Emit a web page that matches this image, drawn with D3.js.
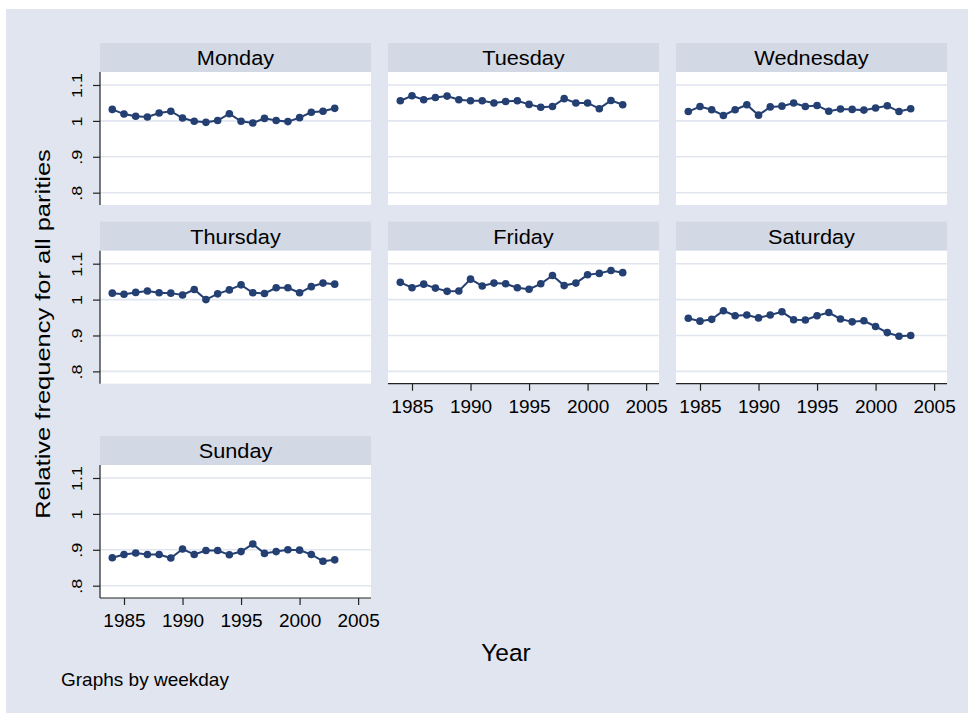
<!DOCTYPE html>
<html>
<head>
<meta charset="utf-8">
<script src="https://cdn.jsdelivr.net/npm/d3@7"></script>
<style>
  html, body { margin: 0; padding: 0; background: #ffffff; }
  svg { display: block; font-family: "Liberation Sans", Arial, sans-serif; }
</style>
</head>
<body>
<svg id="chart" width="968" height="713"></svg>
<script>
// Birth-day-of-week relative frequencies, all parities, by year
const years = [1984, 1985, 1986, 1987, 1988, 1989, 1990, 1991, 1992, 1993,
               1994, 1995, 1996, 1997, 1998, 1999, 2000, 2001, 2002, 2003];

const weekdays = ["Monday", "Tuesday", "Wednesday", "Thursday", "Friday", "Saturday", "Sunday"];

const monday    = [1.032, 1.019, 1.013, 1.011, 1.022, 1.027, 1.008, 0.999, 0.996, 1.001,
                   1.020, 0.999, 0.994, 1.007, 1.001, 0.998, 1.009, 1.024, 1.027, 1.035];
const tuesday   = [1.056, 1.070, 1.059, 1.065, 1.069, 1.059, 1.056, 1.056, 1.050, 1.054,
                   1.056, 1.046, 1.038, 1.040, 1.062, 1.050, 1.050, 1.034, 1.057, 1.045];
const wednesday = [1.026, 1.040, 1.031, 1.015, 1.031, 1.045, 1.016, 1.039, 1.041, 1.050,
                   1.040, 1.043, 1.027, 1.033, 1.032, 1.030, 1.036, 1.042, 1.026, 1.034];
const thursday  = [1.018, 1.015, 1.020, 1.024, 1.019, 1.018, 1.013, 1.028, 1.000, 1.016,
                   1.027, 1.041, 1.019, 1.017, 1.033, 1.033, 1.019, 1.036, 1.046, 1.043];
const friday    = [1.048, 1.033, 1.043, 1.032, 1.023, 1.024, 1.057, 1.038, 1.046, 1.044,
                   1.033, 1.029, 1.044, 1.067, 1.039, 1.046, 1.069, 1.073, 1.081, 1.075];
const saturday  = [0.948, 0.940, 0.945, 0.969, 0.955, 0.957, 0.949, 0.957, 0.966, 0.944,
                   0.943, 0.955, 0.964, 0.946, 0.938, 0.941, 0.925, 0.908, 0.898, 0.900];
const sunday    = [0.878, 0.887, 0.891, 0.887, 0.887, 0.877, 0.902, 0.887, 0.898, 0.898,
                   0.886, 0.895, 0.916, 0.890, 0.895, 0.900, 0.899, 0.887, 0.868, 0.872];

const seriesByDay = [monday, tuesday, wednesday, thursday, friday, saturday, sunday];

const yTicks = [0.8, 0.9, 1.0, 1.1];
const yTickLabels = [".8", ".9", "1", "1.1"];
const xTicks = [1985, 1990, 1995, 2000, 2005];

const yTitle = "Relative frequency for all parities";
const xTitle = "Year";
const note = "Graphs by weekday";

// ---- styling / layout ----
const bg = "#e0e5ef";
const stripFill = "#d2d8e4";
const gridColor = "#e0e5ef";
const ink = "#243f72";

const colX = [100, 388, 676];
const rowY = [43, 221.7, 436];
const panelW = 271;
const stripH = 29;
const plotH = 133;

const svg = d3.select("#chart");

svg.append("rect")
  .attr("x", 6).attr("y", 9)
  .attr("width", 962).attr("height", 704)
  .attr("fill", bg);

const x = d3.scaleLinear().domain([1982.95, 2006.1]).range([0, panelW]);
const y = d3.scaleLinear().domain([0.7657, 1.1362]).range([plotH, 0]);

const line = d3.line()
  .x((d, i) => x(years[i]))
  .y(d => y(d));

weekdays.forEach((day, k) => {
  const col = k % 3, row = Math.floor(k / 3);
  const g = svg.append("g")
    .attr("transform", `translate(${colX[col]},${rowY[row]})`);

  // title strip
  g.append("rect")
    .attr("x", 0).attr("y", 0)
    .attr("width", panelW).attr("height", stripH)
    .attr("fill", stripFill);
  g.append("text")
    .attr("x", panelW / 2).attr("y", 22.5)
    .attr("text-anchor", "middle")
    .attr("font-size", 20.5)
    .attr("transform", `translate(${panelW / 2},0) scale(1.06,1) translate(${-panelW / 2},0)`)
    .attr("fill", "#000")
    .text(day);

  const p = g.append("g").attr("transform", `translate(0,${stripH})`);

  p.append("rect")
    .attr("width", panelW).attr("height", plotH)
    .attr("fill", "#fff");

  // horizontal grid
  p.selectAll("line.grid")
    .data(yTicks)
    .join("line")
    .attr("class", "grid")
    .attr("x1", 0).attr("x2", panelW)
    .attr("y1", d => y(d)).attr("y2", d => y(d))
    .attr("stroke", gridColor)
    .attr("stroke-width", 1.6);

  // left axis on the first column
  if (col === 0) {
    const ax = p.append("g")
      .call(d3.axisLeft(y)
        .tickValues(yTicks)
        .tickFormat((d, i) => yTickLabels[i])
        .tickSize(7)
        .tickPadding(0));
    ax.select(".domain")
      .attr("d", `M0,0V${plotH}`)
      .attr("stroke", "#222").attr("stroke-width", 1.2);
    ax.selectAll(".tick line").attr("stroke", "#222").attr("stroke-width", 1.2);
    ax.selectAll(".tick text")
      .attr("x", null).attr("dy", null)
      .attr("transform", "translate(-18.5,0) rotate(-90) scale(1,0.8)")
      .attr("text-anchor", "middle")
      .attr("font-size", 18)
      .attr("font-family", "Liberation Sans, Arial, sans-serif")
      .attr("fill", "#000");
  }

  // bottom axis on panels with nothing below them
  if (k >= 4) {
    const ax = p.append("g")
      .attr("transform", `translate(0,${plotH})`)
      .call(d3.axisBottom(x)
        .tickValues(xTicks)
        .tickFormat(d3.format("d"))
        .tickSize(7)
        .tickPadding(9));
    ax.select(".domain")
      .attr("d", `M0,0H${panelW}`)
      .attr("stroke", "#222").attr("stroke-width", 1.2);
    ax.selectAll(".tick line").attr("stroke", "#222").attr("stroke-width", 1.2);
    ax.selectAll(".tick text")
      .attr("font-size", 19)
      .attr("font-family", "Liberation Sans, Arial, sans-serif")
      .attr("fill", "#000");
  }

  const vals = seriesByDay[k];
  p.append("path")
    .datum(vals)
    .attr("d", line)
    .attr("fill", "none")
    .attr("stroke", ink)
    .attr("stroke-width", 2);

  p.selectAll("circle")
    .data(vals)
    .join("circle")
    .attr("cx", (d, i) => x(years[i]))
    .attr("cy", d => y(d))
    .attr("r", 3.8)
    .attr("fill", ink);
});

// axis titles and note
svg.append("text")
  .attr("transform", "translate(50,334) rotate(-90) scale(1,0.82)")
  .attr("text-anchor", "middle")
  .attr("font-size", 25.5)
  .attr("fill", "#000")
  .text(yTitle);

svg.append("text")
  .attr("x", 506).attr("y", 661)
  .attr("text-anchor", "middle")
  .attr("font-size", 24.5)
  .attr("fill", "#000")
  .text(xTitle);

svg.append("text")
  .attr("x", 61).attr("y", 686)
  .attr("font-size", 19)
  .attr("fill", "#000")
  .text(note);
</script>
</body>
</html>
